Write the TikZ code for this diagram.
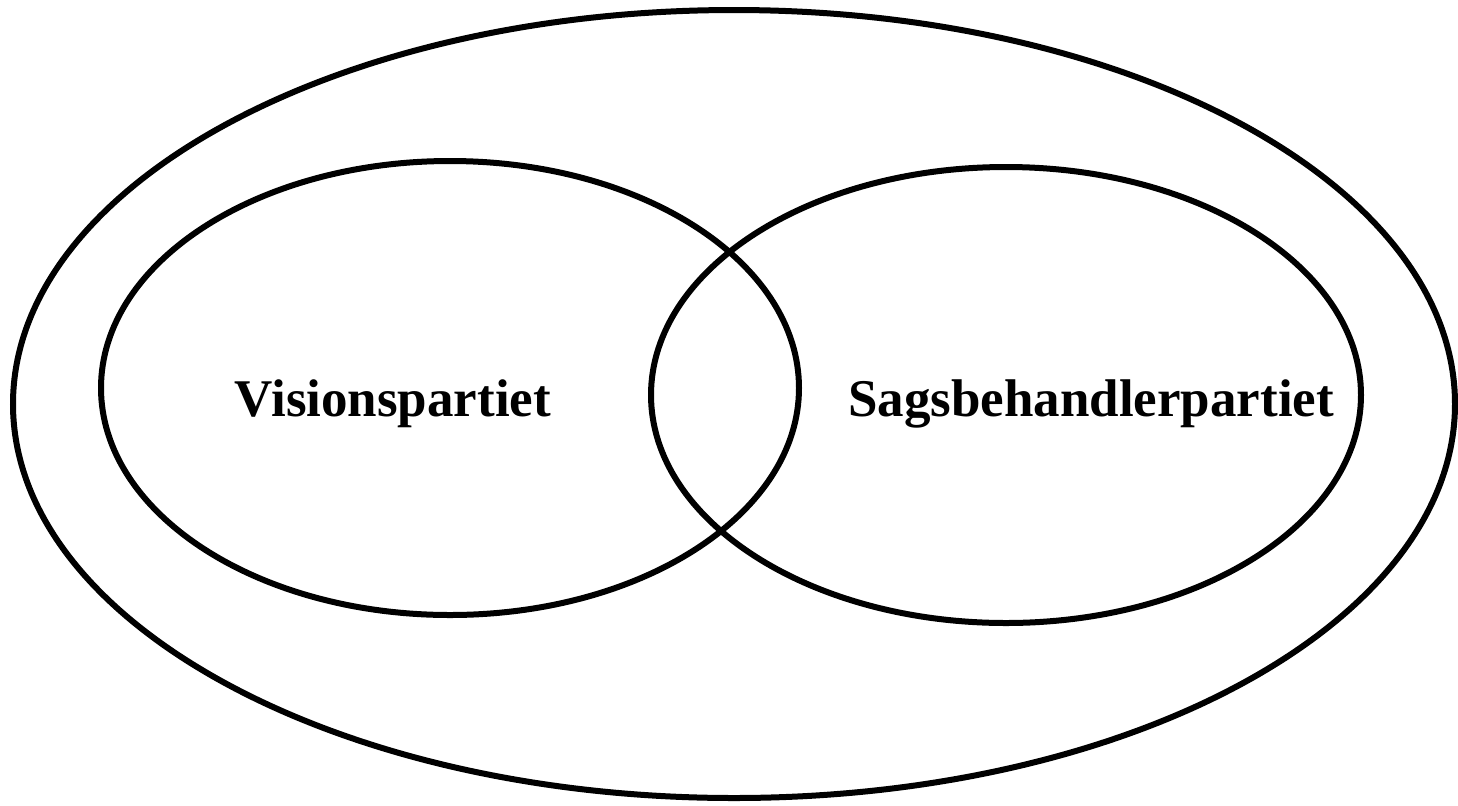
\documentclass[tikz,border=0pt]{standalone}
\usepackage{fontspec}
\setmainfont{Liberation Serif}

\begin{document}
\begin{tikzpicture}[x=0.5pt, y=-0.5pt, line width=3pt]  % one unit = one pixel of the reference
    \useasboundingbox (0,0) rectangle (1458,805);

    % Draw the outer ellipse
    \draw (734,404) ellipse [x radius=721, y radius=394];

    % Draw the two overlapping party ellipses
    \draw (450,388) ellipse [x radius=349, y radius=227];
    \draw (1006,395) ellipse [x radius=355, y radius=228];

    % Party names
    \node[font=\fontsize{26.5pt}{30pt}\selectfont\bfseries] (vision) at (393,404) {Visionspartiet};
    \node[font=\fontsize{26.5pt}{30pt}\selectfont\bfseries] (sagsb) at (1091,404) {Sagsbehandlerpartiet};

\end{tikzpicture}
\end{document}
